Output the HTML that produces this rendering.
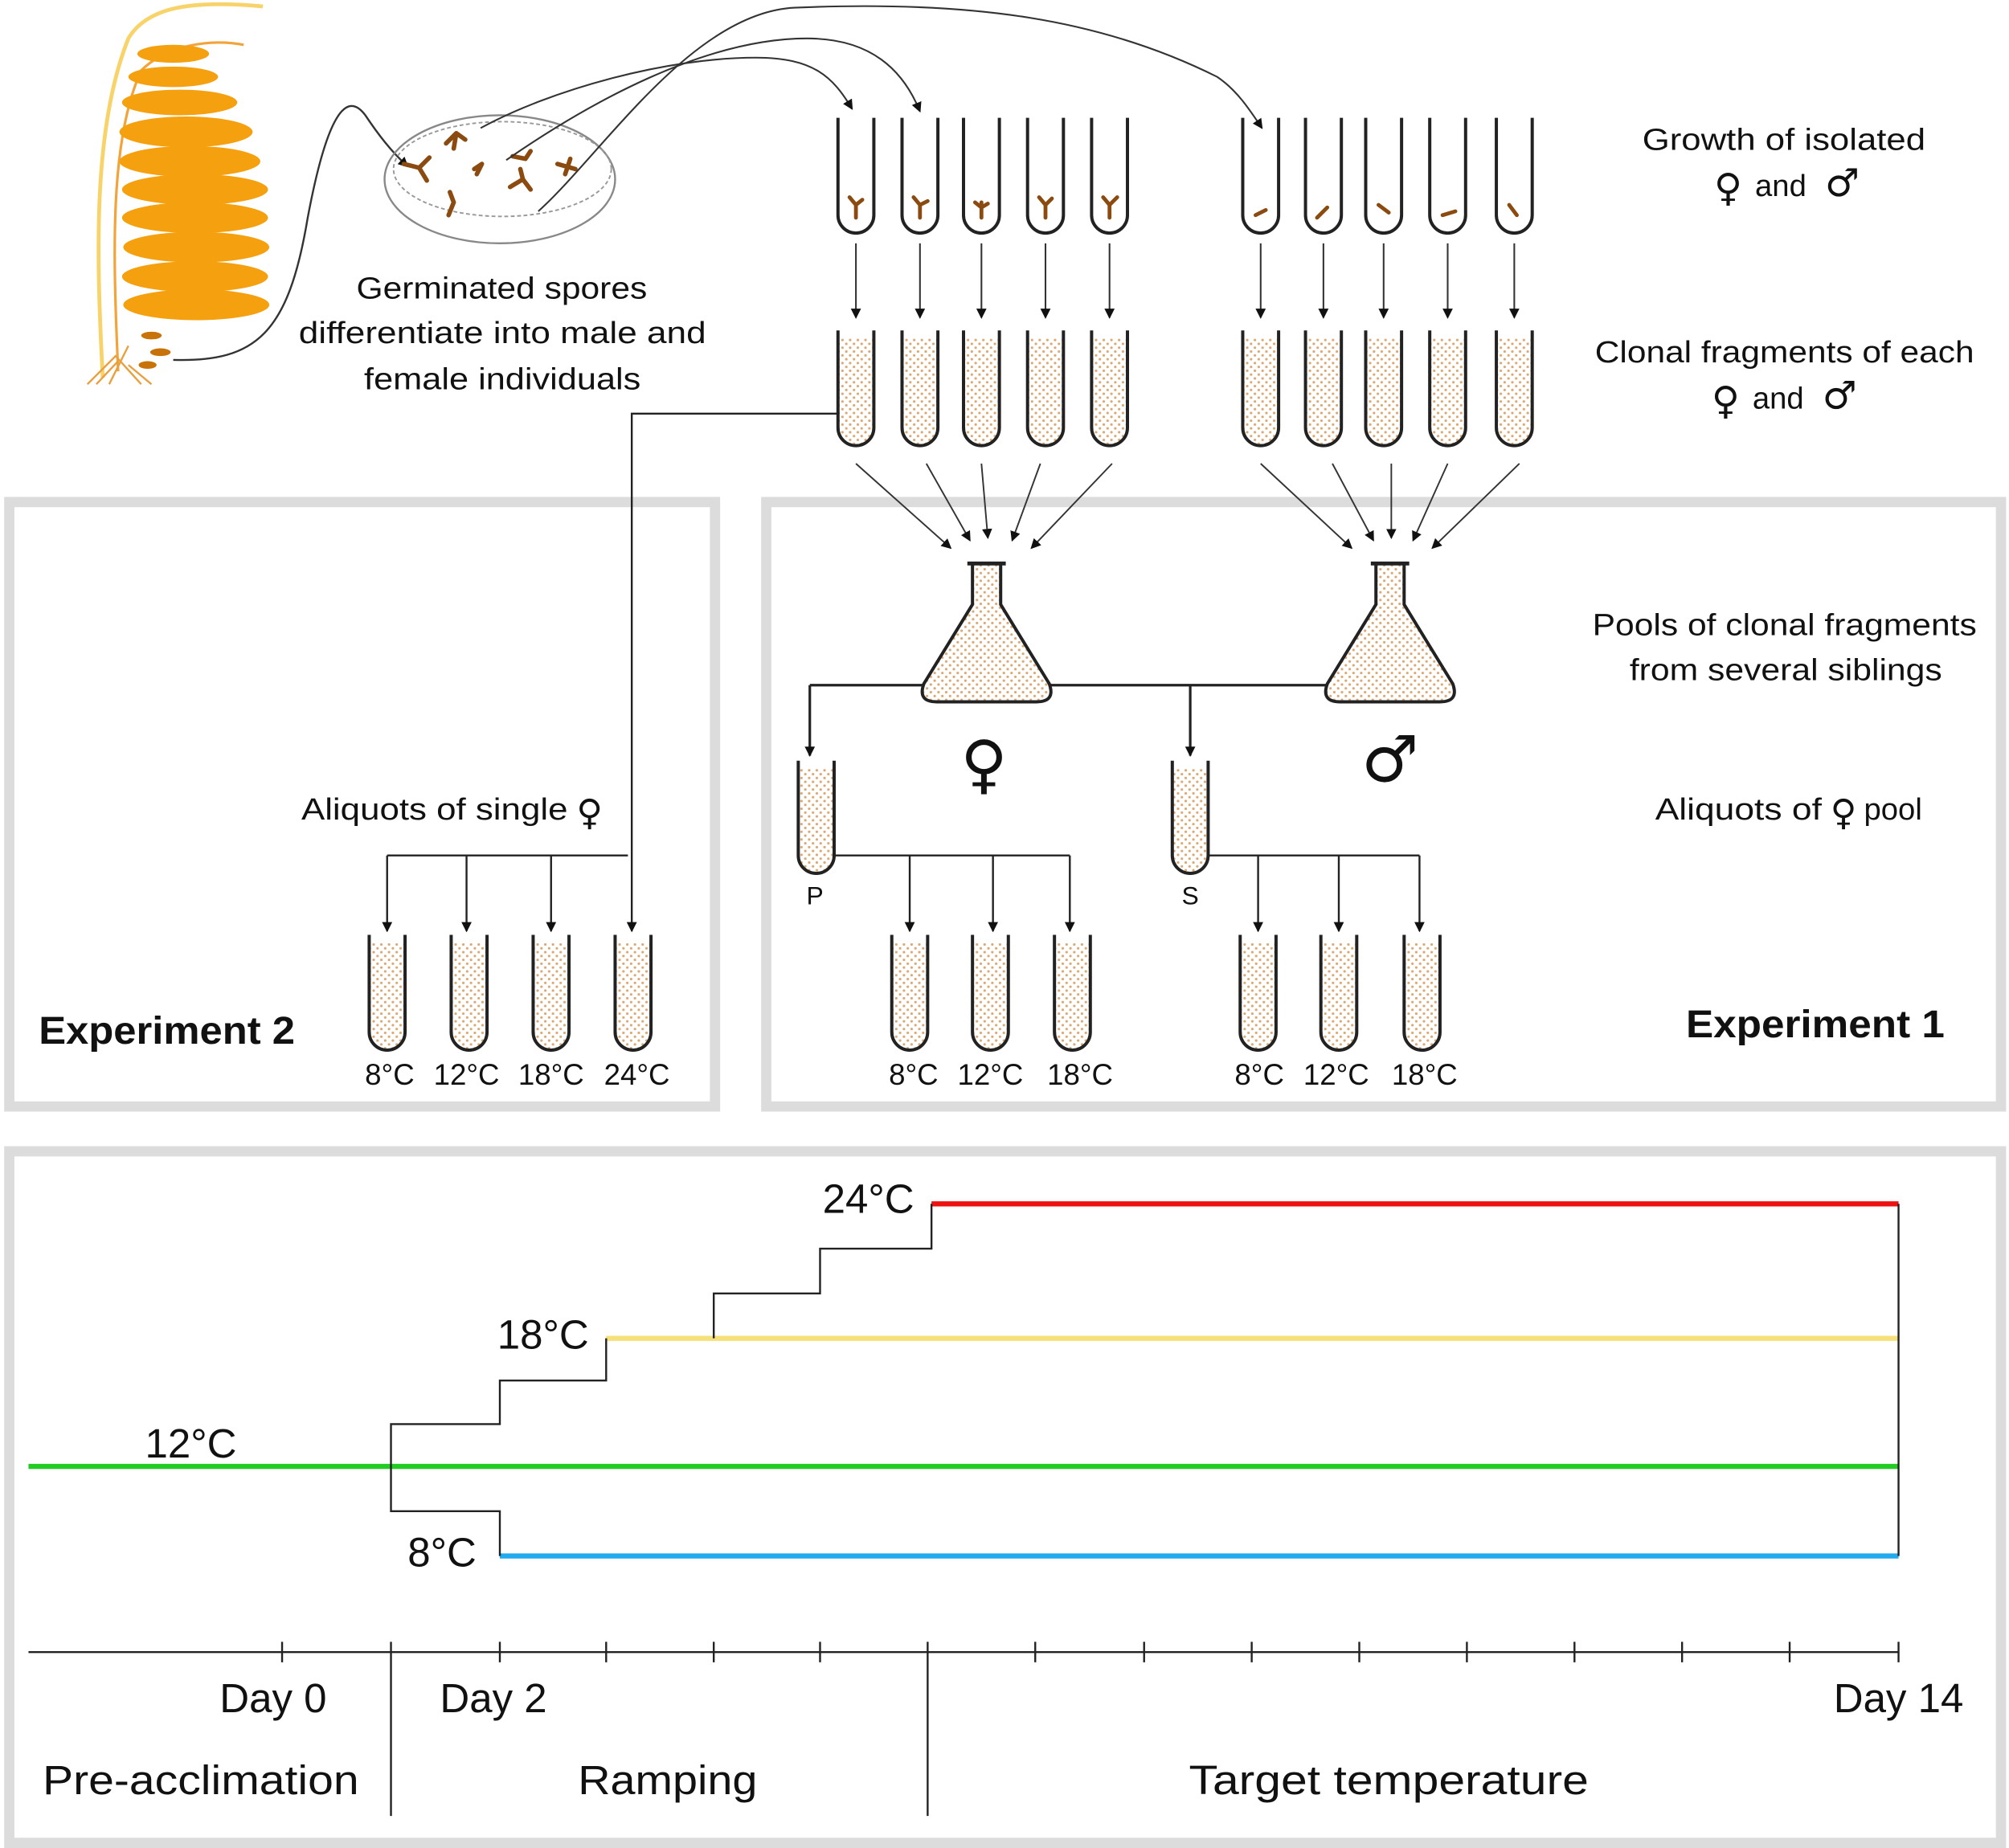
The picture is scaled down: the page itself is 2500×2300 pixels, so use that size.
<!DOCTYPE html>
<html><head><meta charset="utf-8"><style>
html,body{margin:0;padding:0;background:#fff;}
svg{display:block;}
text{font-family:"Liberation Sans","DejaVu Sans",sans-serif;fill:#111;}
.sym{font-family:"DejaVu Sans",sans-serif;}
</style></head><body>
<svg width="2500" height="2300" viewBox="0 0 1568 1443" xmlns="http://www.w3.org/2000/svg">
<defs>
<pattern id="dots" width="6" height="6" patternUnits="userSpaceOnUse">
<rect width="6" height="6" fill="#fff"/>
<circle cx="1.5" cy="1.5" r="1" fill="#d9a874"/><circle cx="4.5" cy="4.5" r="1" fill="#d9a874"/>
</pattern>
<marker id="ar" markerWidth="8" markerHeight="8" refX="7" refY="4" orient="auto" markerUnits="userSpaceOnUse">
<path d="M0,0 L8,4 L0,8 z" fill="#111"/></marker>
<symbol id="tube" overflow="visible"><path d="M-14,0 V76 a14,14 0 0 0 28,0 V0" fill="none" stroke="#222" stroke-width="2.5"/></symbol>
<symbol id="ftube" overflow="visible"><path d="M-13,6 V76 a13,13 0 0 0 26,0 V6 z" fill="url(#dots)"/><path d="M-14,0 V76 a14,14 0 0 0 28,0 V0" fill="none" stroke="#222" stroke-width="2.5"/></symbol>
<symbol id="flask" overflow="visible"><path d="M-11,0 h22 v32 l38,62 q5,14 -10,14 h-78 q-15,0 -10,-14 l38,-62 z" fill="url(#dots)" stroke="#222" stroke-width="2.5"/><path d="M-15,0 h30" stroke="#222" stroke-width="3"/></symbol>
</defs>

<rect x="7" y="392" width="551" height="472" fill="none" stroke="#dcdcdc" stroke-width="8"/>
<rect x="598" y="392" width="964" height="472" fill="none" stroke="#dcdcdc" stroke-width="8"/>
<rect x="7" y="899" width="1555" height="540" fill="none" stroke="#dcdcdc" stroke-width="8"/>

<!-- kelp -->
<g>
<path d="M80,295 C75,200 72,100 100,30 C115,5 150,0 205,5" fill="none" stroke="#f7d36a" stroke-width="3"/>
<path d="M92,290 C88,200 85,110 110,55 C130,35 165,30 190,35" fill="none" stroke="#f2a33a" stroke-width="2"/>
<g fill="#f5a00f">
<ellipse cx="135" cy="42" rx="28" ry="7"/>
<ellipse cx="135" cy="60" rx="35" ry="8"/>
<ellipse cx="140" cy="80" rx="45" ry="10"/>
<ellipse cx="145" cy="103" rx="52" ry="12"/>
<ellipse cx="148" cy="126" rx="55" ry="12"/>
<ellipse cx="152" cy="148" rx="57" ry="12"/>
<ellipse cx="152" cy="170" rx="57" ry="12"/>
<ellipse cx="153" cy="193" rx="57" ry="12"/>
<ellipse cx="152" cy="216" rx="57" ry="12"/>
<ellipse cx="153" cy="238" rx="57" ry="12"/>
</g>
<g fill="#c8730a"><ellipse cx="118" cy="262" rx="8" ry="3"/><ellipse cx="125" cy="275" rx="8" ry="3"/><ellipse cx="115" cy="285" rx="7" ry="3"/></g>
<path d="M68,300 L90,278 L110,300 M75,300 L92,282 M100,285 L118,300 M85,300 L100,270" fill="none" stroke="#e8a040" stroke-width="1.5"/>
</g>
<path d="M135,281 C200,283 225,260 240,170 C255,90 270,70 285,90 C295,105 305,118 318,130" fill="none" stroke="#333" stroke-width="1.5" marker-end="url(#ar)"/>

<ellipse cx="390" cy="140" rx="90" ry="50" fill="none" stroke="#888" stroke-width="1.5"/>
<ellipse cx="392" cy="132" rx="85" ry="37" fill="none" stroke="#999" stroke-width="1.2" stroke-dasharray="3,2"/>
<g stroke="#8a4a10" stroke-width="3.5" fill="none" stroke-linecap="round">
<path d="M315,128 l12,3 M327,131 l8,-8 M327,131 l6,10"/>
<path d="M348,112 l8,-8 M356,104 l7,5 M356,104 l-2,12"/>
<path d="M400,122 l10,2 M410,124 l4,-6"/>
<path d="M398,146 l10,-6 M408,140 l6,8 M408,140 l-2,-8"/>
<path d="M435,128 l14,4 M445,124 l-4,12"/>
<path d="M370,132 l6,-4 M376,128 l-4,8"/>
<path d="M350,168 l4,-10 M354,158 l-3,-8"/>
</g>
<path d="M375,100 C430,70 520,45 590,45 C635,45 650,60 665,85" fill="none" stroke="#333" stroke-width="1.3" marker-end="url(#ar)"/>
<path d="M395,125 C460,80 550,30 630,30 C680,30 705,55 718,87" fill="none" stroke="#333" stroke-width="1.3" marker-end="url(#ar)"/>
<path d="M420,165 C470,120 540,10 620,6 C760,0 860,15 950,60 C965,70 975,85 985,100" fill="none" stroke="#333" stroke-width="1.3" marker-end="url(#ar)"/>

<g font-size="24">
<text x="278" y="233" textLength="227" lengthAdjust="spacingAndGlyphs">Germinated spores</text>
<text x="233" y="268" textLength="318" lengthAdjust="spacingAndGlyphs">differentiate into male and</text>
<text x="284" y="304" textLength="216" lengthAdjust="spacingAndGlyphs">female individuals</text>
</g>

<g>
<use href="#tube" x="668" y="92"/><use href="#tube" x="718" y="92"/><use href="#tube" x="766" y="92"/><use href="#tube" x="816" y="92"/><use href="#tube" x="866" y="92"/>
<use href="#tube" x="984" y="92"/><use href="#tube" x="1033" y="92"/><use href="#tube" x="1080" y="92"/><use href="#tube" x="1130" y="92"/><use href="#tube" x="1182" y="92"/>
</g>
<g stroke="#8a4a10" stroke-width="3" fill="none" stroke-linecap="round">
<path d="M668,170 v-10 l-5,-6 M668,160 l5,-4"/><path d="M718,170 v-10 l-5,-6 M718,160 l6,-3"/><path d="M766,170 v-12 M766,162 l-5,-4 M766,162 l5,-3"/><path d="M816,170 v-10 l-5,-6 M816,160 l5,-5"/><path d="M866,170 v-10 l-5,-6 M866,160 l6,-6"/>
<path d="M980,168 l8,-4"/><path d="M1028,170 l8,-8"/><path d="M1076,160 l8,6"/><path d="M1126,168 l10,-3"/><path d="M1178,160 l6,8"/>
</g>
<g stroke="#333" stroke-width="1.3" marker-end="url(#ar)">
<line x1="668" y1="190" x2="668" y2="248"/><line x1="718" y1="190" x2="718" y2="248"/><line x1="766" y1="190" x2="766" y2="248"/><line x1="816" y1="190" x2="816" y2="248"/><line x1="866" y1="190" x2="866" y2="248"/>
<line x1="984" y1="190" x2="984" y2="248"/><line x1="1033" y1="190" x2="1033" y2="248"/><line x1="1080" y1="190" x2="1080" y2="248"/><line x1="1130" y1="190" x2="1130" y2="248"/><line x1="1182" y1="190" x2="1182" y2="248"/>
</g>
<g>
<use href="#ftube" x="668" y="258"/><use href="#ftube" x="718" y="258"/><use href="#ftube" x="766" y="258"/><use href="#ftube" x="816" y="258"/><use href="#ftube" x="866" y="258"/>
<use href="#ftube" x="984" y="258"/><use href="#ftube" x="1033" y="258"/><use href="#ftube" x="1080" y="258"/><use href="#ftube" x="1130" y="258"/><use href="#ftube" x="1182" y="258"/>
</g>
<g stroke="#333" stroke-width="1.2" marker-end="url(#ar)">
<line x1="668" y1="362" x2="742" y2="428"/><line x1="723" y1="362" x2="757" y2="422"/><line x1="766" y1="362" x2="771" y2="420"/><line x1="812" y1="362" x2="790" y2="422"/><line x1="868" y1="362" x2="805" y2="428"/>
<line x1="984" y1="362" x2="1055" y2="428"/><line x1="1040" y1="362" x2="1072" y2="422"/><line x1="1086" y1="362" x2="1086" y2="420"/><line x1="1130" y1="362" x2="1103" y2="422"/><line x1="1186" y1="362" x2="1118" y2="428"/>
</g>

<path d="M632,535 H1040" stroke="#222" stroke-width="2"/>
<path d="M632,535 V590" stroke="#222" stroke-width="2" marker-end="url(#ar)"/>
<path d="M929,535 V590" stroke="#222" stroke-width="2" marker-end="url(#ar)"/>
<use href="#flask" x="770" y="440"/>
<use href="#flask" x="1085" y="440"/>
<text class="sym" x="768" y="614" font-size="50" font-weight="bold" text-anchor="middle">♀</text>
<text class="sym" x="1085" y="610" font-size="50" font-weight="bold" text-anchor="middle">♂</text>

<path d="M623,600 V668 a14,14 0 0 0 28,0 V600 z" fill="url(#dots)"/>
<path d="M623,594 V668 a14,14 0 0 0 28,0 V594" fill="none" stroke="#222" stroke-width="2.5"/>
<path d="M915,600 V668 a14,14 0 0 0 28,0 V600 z" fill="url(#dots)"/>
<path d="M915,594 V668 a14,14 0 0 0 28,0 V594" fill="none" stroke="#222" stroke-width="2.5"/>
<text x="636" y="706" font-size="20" text-anchor="middle">P</text>
<text x="929" y="706" font-size="20" text-anchor="middle">S</text>
<path d="M650,668 H835" stroke="#222" stroke-width="1.5"/>
<path d="M943,668 H1108" stroke="#222" stroke-width="1.5"/>
<g stroke="#222" stroke-width="1.5" marker-end="url(#ar)">
<line x1="710" y1="668" x2="710" y2="727"/><line x1="775" y1="668" x2="775" y2="727"/><line x1="835" y1="668" x2="835" y2="727"/>
<line x1="982" y1="668" x2="982" y2="727"/><line x1="1045" y1="668" x2="1045" y2="727"/><line x1="1108" y1="668" x2="1108" y2="727"/>
</g>
<path d="M655,323 H493 V727" fill="none" stroke="#222" stroke-width="1.5" marker-end="url(#ar)"/>
<path d="M302,668 H490" stroke="#222" stroke-width="1.5"/>
<g stroke="#222" stroke-width="1.5" marker-end="url(#ar)">
<line x1="302" y1="668" x2="302" y2="727"/><line x1="364" y1="668" x2="364" y2="727"/><line x1="430" y1="668" x2="430" y2="727"/>
</g>
<g>
<use href="#ftube" x="302" y="730"/><use href="#ftube" x="366" y="730"/><use href="#ftube" x="430" y="730"/><use href="#ftube" x="494" y="730"/>
<use href="#ftube" x="710" y="730"/><use href="#ftube" x="773" y="730"/><use href="#ftube" x="837" y="730"/>
<use href="#ftube" x="982" y="730"/><use href="#ftube" x="1045" y="730"/><use href="#ftube" x="1110" y="730"/>
</g>
<g font-size="23" text-anchor="middle">
<text x="304" y="847">8°C</text><text x="364" y="847">12°C</text><text x="430" y="847">18°C</text><text x="497" y="847">24°C</text>
<text x="713" y="847">8°C</text><text x="773" y="847">12°C</text><text x="843" y="847">18°C</text>
<text x="983" y="847">8°C</text><text x="1043" y="847">12°C</text><text x="1112" y="847">18°C</text>
</g>
<text x="235" y="640" font-size="24" textLength="208" lengthAdjust="spacingAndGlyphs">Aliquots of single</text>
<text class="sym" x="460" y="644" font-size="28" text-anchor="middle">♀</text>
<text x="1292" y="640" font-size="24" textLength="130" lengthAdjust="spacingAndGlyphs">Aliquots of</text>
<text class="sym" x="1439" y="644" font-size="28" text-anchor="middle">♀</text>
<text x="1455" y="640" font-size="24">pool</text>
<text x="30" y="815" font-size="30" font-weight="bold" textLength="200" lengthAdjust="spacingAndGlyphs">Experiment 2</text>
<text x="1316" y="810" font-size="30" font-weight="bold" textLength="202" lengthAdjust="spacingAndGlyphs">Experiment 1</text>
<g font-size="24">
<text x="1282" y="117" textLength="221" lengthAdjust="spacingAndGlyphs">Growth of isolated</text>
<text x="1245" y="283" textLength="296" lengthAdjust="spacingAndGlyphs">Clonal fragments of each</text>
<text x="1243" y="496" textLength="300" lengthAdjust="spacingAndGlyphs">Pools of clonal fragments</text>
<text x="1272" y="531" textLength="244" lengthAdjust="spacingAndGlyphs">from several siblings</text>
</g>
<text class="sym" x="1349" y="157" font-size="30" text-anchor="middle">♀</text>
<text x="1370" y="153" font-size="24">and</text>
<text class="sym" x="1438" y="153" font-size="30" text-anchor="middle">♂</text>
<text class="sym" x="1347" y="323" font-size="30" text-anchor="middle">♀</text>
<text x="1368" y="319" font-size="24">and</text>
<text class="sym" x="1436" y="319" font-size="30" text-anchor="middle">♂</text>

<g fill="none" stroke-width="4">
<line x1="22" y1="1145" x2="1482" y2="1145" stroke="#22cc22"/>
<line x1="390" y1="1215" x2="1482" y2="1215" stroke="#22aaee"/>
<line x1="473" y1="1045" x2="1482" y2="1045" stroke="#f5e07a"/>
<line x1="727" y1="940" x2="1482" y2="940" stroke="#ee1111"/>
</g>
<g fill="none" stroke="#222" stroke-width="1.5">
<path d="M305,1145 V1112 H390 V1078 H473 V1045"/>
<path d="M557,1045 V1010 H640 V975 H727 V940"/>
<path d="M305,1145 V1180 H390 V1215"/>
<path d="M1482,940 V1215"/>
<line x1="22" y1="1290" x2="1482" y2="1290"/>
<path d="M220,1282 v16 M390,1282 v16 M473,1282 v16 M557,1282 v16 M640,1282 v16 M808,1282 v16 M893,1282 v16 M977,1282 v16 M1061,1282 v16 M1145,1282 v16 M1229,1282 v16 M1313,1282 v16 M1397,1282 v16 M1482,1282 v16"/>
<line x1="305" y1="1282" x2="305" y2="1418"/>
<line x1="724" y1="1282" x2="724" y2="1418"/>
</g>
<g font-size="32">
<text x="642" y="947">24°C</text>
<text x="388" y="1053">18°C</text>
<text x="113" y="1138">12°C</text>
<text x="318" y="1223">8°C</text>
<text x="213" y="1337" text-anchor="middle">Day 0</text>
<text x="385" y="1337" text-anchor="middle">Day 2</text>
<text x="1482" y="1337" text-anchor="middle">Day 14</text>
<text x="33" y="1401" textLength="247" lengthAdjust="spacingAndGlyphs">Pre-acclimation</text>
<text x="451" y="1401" textLength="140" lengthAdjust="spacingAndGlyphs">Ramping</text>
<text x="928" y="1401" textLength="312" lengthAdjust="spacingAndGlyphs">Target temperature</text>
</g>
</svg>
</body></html>
